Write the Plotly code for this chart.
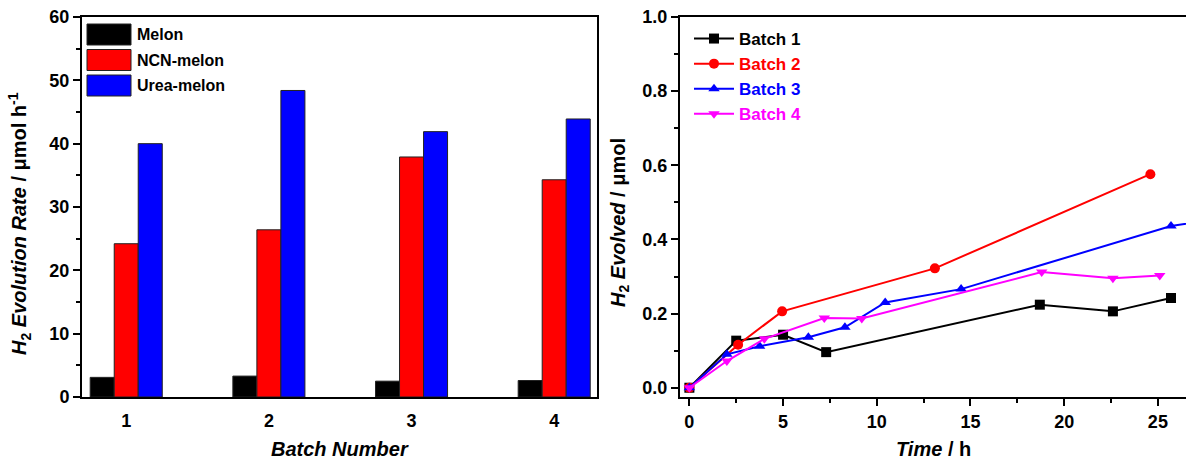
import plotly.graph_objects as go

# ---- left panel: H2 evolution rate per batch ----
batches = [1, 2, 3, 4]
bar_names = ["Melon", "NCN-melon", "Urea-melon"]
melon_rate = [3.1, 3.3, 2.5, 2.6]
ncn_rate = [24.2, 26.4, 37.9, 34.3]
urea_rate = [40.0, 48.4, 41.9, 43.9]
bar_colors = ["#000000", "#FF0000", "#0000FF"]

# ---- right panel: cumulative H2 evolved vs time ----
t_b1 = [0, 2.5, 5.0, 7.3, 18.7, 22.6, 25.7]
h_b1 = [0, 0.127, 0.143, 0.096, 0.224, 0.206, 0.242]
t_b2 = [0, 2.6, 4.95, 13.1, 24.6]
h_b2 = [0, 0.116, 0.206, 0.322, 0.576]
t_b3 = [0, 2.0, 3.75, 6.35, 8.3, 10.45, 14.5, 25.7, 28.5]
h_b3 = [0, 0.090, 0.112, 0.136, 0.163, 0.230, 0.266, 0.436, 0.458]
t_b4 = [0, 2.0, 4.0, 7.2, 9.2, 18.8, 22.6, 25.1]
h_b4 = [0, 0.072, 0.132, 0.188, 0.187, 0.312, 0.295, 0.303]
line_names = ["Batch 1", "Batch 2", "Batch 3", "Batch 4"]
line_colors = ["#000000", "#FF0000", "#0000FF", "#FF00FF"]
line_symbols = ["square", "circle", "triangle-up", "triangle-down"]

W, H = 1186, 462
M_T, M_B = 17, 65
PLOT_BOTTOM = H - M_B
PLOT_H = H - M_T - M_B


def px_x(px):
    return px / W


def px_y(py):
    return (PLOT_BOTTOM - py) / PLOT_H


FONT = "Liberation Sans, Arial, sans-serif"

fig = go.Figure()

for name, vals, col in zip(bar_names, [melon_rate, ncn_rate, urea_rate], bar_colors):
    fig.add_trace(go.Bar(
        x=batches, y=vals, name=name, marker=dict(color=col, line=dict(color="#222222", width=1)),
        xaxis="x", yaxis="y", showlegend=False,
    ))

for name, t, h, col, sym in zip(line_names, [t_b1, t_b2, t_b3, t_b4], [h_b1, h_b2, h_b3, h_b4],
                                line_colors, line_symbols):
    fig.add_trace(go.Scatter(
        x=t, y=h, mode="lines+markers",
        name=f"<span style='color:{col}'>{name}</span>",
        line=dict(color=col, width=2),
        marker=dict(symbol=sym, size=10, color=col),
        xaxis="x2", yaxis="y2",
    ))

axis_common = dict(
    showline=True, linecolor="black", linewidth=2, showgrid=False, zeroline=False,
    tickfont=dict(family=FONT, size=18, color="black", weight="bold"),
    ticklen=7, tickwidth=2, tickcolor="black",
)

fig.update_layout(
    width=W, height=H,
    margin=dict(l=0, r=0, t=M_T, b=M_B),
    plot_bgcolor="white", paper_bgcolor="white",
    barmode="group", bargap=0.495, bargroupgap=0,
    font=dict(family=FONT, color="black"),
    xaxis=dict(
        domain=[px_x(82), px_x(597)], range=[0.69, 4.3],
        tickvals=batches, ticks="", mirror=True, anchor="y", ticklabelstandoff=6,
        **{k: v for k, v in axis_common.items() if k not in ("ticklen",)},
    ),
    yaxis=dict(
        range=[0, 60], dtick=10, ticks="outside", mirror=True, anchor="x",
        minor=dict(dtick=5, ticks="outside", ticklen=4, tickwidth=2, tickcolor="black"),
        **axis_common,
    ),
    xaxis2=dict(
        domain=[px_x(680), 1.0], range=[-0.5, 26.5], dtick=5, ticks="outside",
        mirror=True, anchor="y2",
        minor=dict(dtick=2.5, ticks="outside", ticklen=4, tickwidth=2, tickcolor="black"),
        **axis_common,
    ),
    yaxis2=dict(
        range=[-0.025, 1.0], dtick=0.2, tickformat=".1f", ticks="outside", anchor="x2",
        minor=dict(dtick=0.1, ticks="outside", ticklen=4, tickwidth=2, tickcolor="black"),
        **axis_common,
    ),
    legend=dict(
        x=px_x(689), y=px_y(21), xanchor="left", yanchor="top",
        bgcolor="rgba(0,0,0,0)", borderwidth=0,
        font=dict(family=FONT, size=17, weight="bold"),
        tracegroupgap=0, itemwidth=40,
    ),
)

# legend for the bar panel: filled swatches with labels
for i, (name, col) in enumerate(zip(bar_names, bar_colors)):
    y0 = 24 + i * 25.5
    fig.add_shape(type="rect", xref="paper", yref="paper",
                  x0=px_x(87), x1=px_x(131), y0=px_y(y0 + 21), y1=px_y(y0),
                  fillcolor=col, line=dict(color="#222222", width=1))
    fig.add_annotation(xref="paper", yref="paper", x=px_x(135), y=px_y(y0 + 10.5),
                       xanchor="left", yanchor="middle", showarrow=False, text=f"<b>{name}</b>",
                       font=dict(family=FONT, size=16, color="black"))

title_font = dict(family=FONT, size=20, color="black")
fig.add_annotation(xref="paper", yref="paper", x=px_x(340), y=px_y(449), xanchor="center",
                   yanchor="middle", showarrow=False, text="<b><i>Batch Number</i></b>", font=title_font)
fig.add_annotation(xref="paper", yref="paper", x=px_x(933), y=px_y(449), xanchor="center",
                   yanchor="middle", showarrow=False, text="<b><i>Time</i> / h</b>", font=title_font)
fig.add_annotation(xref="paper", yref="paper", x=px_x(19), y=px_y(224), xanchor="center",
                   yanchor="middle", showarrow=False, textangle=-90,
                   text="<b><i>H</i><sub>2</sub> <i>Evolution Rate</i> / μmol h<sup>-1</sup></b>",
                   font=title_font)
fig.add_annotation(xref="paper", yref="paper", x=px_x(619), y=px_y(222), xanchor="center",
                   yanchor="middle", showarrow=False, textangle=-90,
                   text="<b><i>H</i><sub>2</sub> <i>Evolved</i> / μmol</b>",
                   font=title_font)

fig.write_html("out.html")
